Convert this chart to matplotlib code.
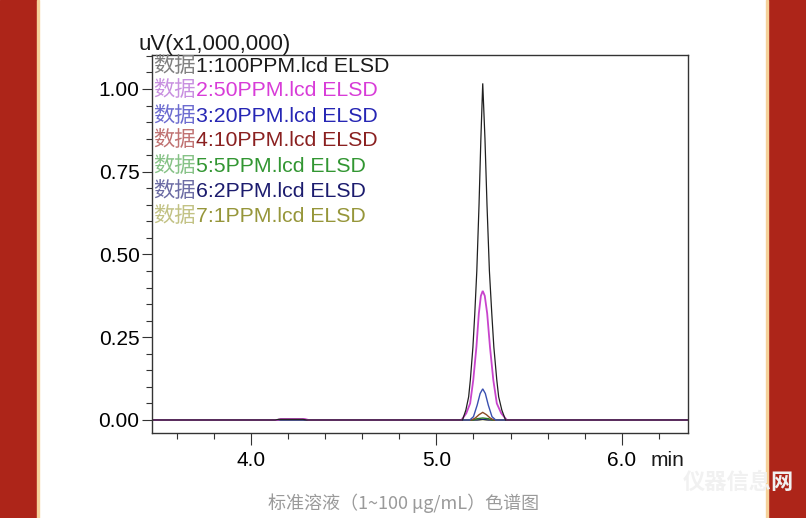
import matplotlib
matplotlib.use("Agg")
import matplotlib.pyplot as plt
from matplotlib.patches import Rectangle
from matplotlib.ticker import MultipleLocator, FixedLocator, FormatStrFormatter

# retention time (min) / signal (uV x1,000,000)
t_100 = [3.45, 4.13, 4.15, 4.28, 4.30, 5.141, 5.159, 5.174, 5.183, 5.197, 5.207, 5.218,
         5.230, 5.240, 5.250, 5.262, 5.273, 5.286, 5.299, 5.310, 5.326, 5.336, 5.353, 5.373, 6.40]
v_100 = [0, 0, 0.002, 0.002, 0, 0, 0.03, 0.07, 0.12, 0.22, 0.32, 0.45,
         0.65, 0.85, 1.017, 0.85, 0.65, 0.45, 0.32, 0.22, 0.12, 0.07, 0.03, 0, 0]

t_50 = [3.45, 4.14, 4.16, 4.29, 4.31, 5.135, 5.161, 5.182, 5.199, 5.216, 5.229, 5.240,
        5.250, 5.261, 5.274, 5.289, 5.307, 5.326, 5.350, 5.380, 6.40]
v_50 = [0, 0, 0.003, 0.003, 0, 0, 0.02, 0.05, 0.121, 0.221, 0.322, 0.375,
        0.39, 0.375, 0.322, 0.221, 0.121, 0.05, 0.02, 0, 0]

t_20 = [3.45, 5.18, 5.20, 5.22, 5.236, 5.25, 5.264, 5.28, 5.30, 5.32, 6.40]
v_20 = [0, 0, 0.01, 0.045, 0.08, 0.094, 0.08, 0.045, 0.01, 0, 0]

t_10 = [3.45, 5.19, 5.21, 5.23, 5.25, 5.27, 5.29, 5.31, 6.40]
v_10 = [0, 0, 0.006, 0.016, 0.023, 0.016, 0.006, 0, 0]

t_5 = [3.45, 5.20, 5.22, 5.25, 5.28, 5.30, 6.40]
v_5 = [0, 0, 0.004, 0.006, 0.004, 0, 0]

t_2 = [3.45, 5.22, 5.25, 5.28, 6.40]
v_2 = [0, 0, 0.002, 0, 0]

t_1 = [3.45, 5.23, 5.25, 5.27, 6.40]
v_1 = [0, 0, 0.001, 0, 0]

names = ["1:100PPM.lcd ELSD", "2:50PPM.lcd ELSD", "3:20PPM.lcd ELSD", "4:10PPM.lcd ELSD",
         "5:5PPM.lcd ELSD", "6:2PPM.lcd ELSD", "7:1PPM.lcd ELSD"]
txt_colors = ["#1a1a1a", "#d83cd8", "#2626b4", "#8a2020", "#329632", "#1c1c6e", "#96963a"]
pre_colors = ["#808080", "#c890e0", "#6c6cd0", "#c07272", "#86c286", "#6c6ca4", "#c2c284"]
line_colors = ["#202020", "#c844cc", "#3a50b0", "#8b4a24", "#2a7a2a", "#1c1c6e", "#96963a"]
traces = [(t_100, v_100), (t_50, v_50), (t_20, v_20), (t_10, v_10),
          (t_5, v_5), (t_2, v_2), (t_1, v_1)]

plt.rcParams['font.family'] = ['Liberation Sans', 'Noto Sans CJK SC', 'DejaVu Sans']

W, H = 806, 518
fig = plt.figure(figsize=(W / 100, H / 100), dpi=100)
ax = fig.add_axes([152.3 / W, 1 - 432.7 / H, (687.7 - 152.3) / W, (432.7 - 54.5) / H])

# draw last trace first so the 100PPM run sits on top of the baseline
widths = [0.9, 1.3, 1.0, 1.0, 1.0, 0.9, 0.9]
for i in reversed(range(len(traces))):
    tt, vv = traces[i]
    ax.plot(tt, vv, color=line_colors[i], lw=widths[i], solid_joinstyle='miter')

ax.set_xlim(3.467, 6.356)
ax.set_ylim(-0.0384, 1.1042)

ax.xaxis.set_major_locator(FixedLocator([4.0, 5.0, 6.0]))
ax.xaxis.set_minor_locator(MultipleLocator(0.2))
ax.xaxis.set_major_formatter(FormatStrFormatter('%.1f'))
ax.yaxis.set_major_locator(MultipleLocator(0.25))
ax.yaxis.set_minor_locator(MultipleLocator(0.05))
ax.yaxis.set_major_formatter(FormatStrFormatter('%.2f'))

ax.tick_params(axis='x', which='major', direction='out', length=8.6, width=0.8,
               color='#333333', labelsize=15, pad=4.5)
ax.tick_params(axis='x', which='minor', direction='out', length=4.3, width=0.8, color='#333333')
ax.tick_params(axis='y', which='major', direction='out', length=7.2, width=0.8,
               color='#333333', labelsize=15, pad=2)
ax.tick_params(axis='y', which='minor', direction='out', length=4.3, width=0.8, color='#333333')
for s in ax.spines.values():
    s.set_color('#333333')
    s.set_linewidth(1.0)

fig.text(668 / W, 1 - 466 / H, "min", fontsize=15, ha='center', va='baseline', color='#1a1a1a')
fig.text(138 / W, 1 - 50 / H, "uV(x1,000,000)", fontsize=16, ha='left', va='baseline', color='#1a1a1a')

# legend block: "数据" in a paler tint, rest in trace colour
fig.canvas.draw()
rend = fig.canvas.get_renderer()
for i, name in enumerate(names):
    yb = 1 - (71.5 + 25 * i) / H
    t0 = fig.text(153.5 / W, yb, "数据", fontsize=15.3, color=pre_colors[i], va='baseline')
    bb = t0.get_window_extent(rend)
    fig.text(bb.x1 / W, yb, name, fontsize=15.3, color=txt_colors[i], va='baseline')

fig.text(404 / W, 1 - 503 / H, "标准溶液（1~100 μg/mL）色谱图", fontsize=13, color='#9a9a9a',
         ha='center', va='center', family=['Noto Sans CJK SC', 'DejaVu Sans'])

# faint watermark, bottom right (partly under the border)
fig.text(738 / W, 1 - 482 / H, "仪器信息网", fontsize=16, color='#f1f1f1', ha='center', va='center',
         weight='bold', family=['Noto Sans CJK SC', 'DejaVu Sans'])

# red page borders
red = '#ad2519'
fig.patches.append(Rectangle((0, 0), 37 / W, 1, transform=fig.transFigure, color=red, zorder=-1))
fig.patches.append(Rectangle((37 / W, 0), 2 / W, 1, transform=fig.transFigure, color='#f6d29a', zorder=-1))
fig.patches.append(Rectangle((768 / W, 0), 38 / W, 1, transform=fig.transFigure, color=red, zorder=-1))
fig.patches.append(Rectangle((766 / W, 0), 2 / W, 1, transform=fig.transFigure, color='#f6d29a', zorder=-1))

fig.savefig('out.png', dpi=100)
plt.close()
